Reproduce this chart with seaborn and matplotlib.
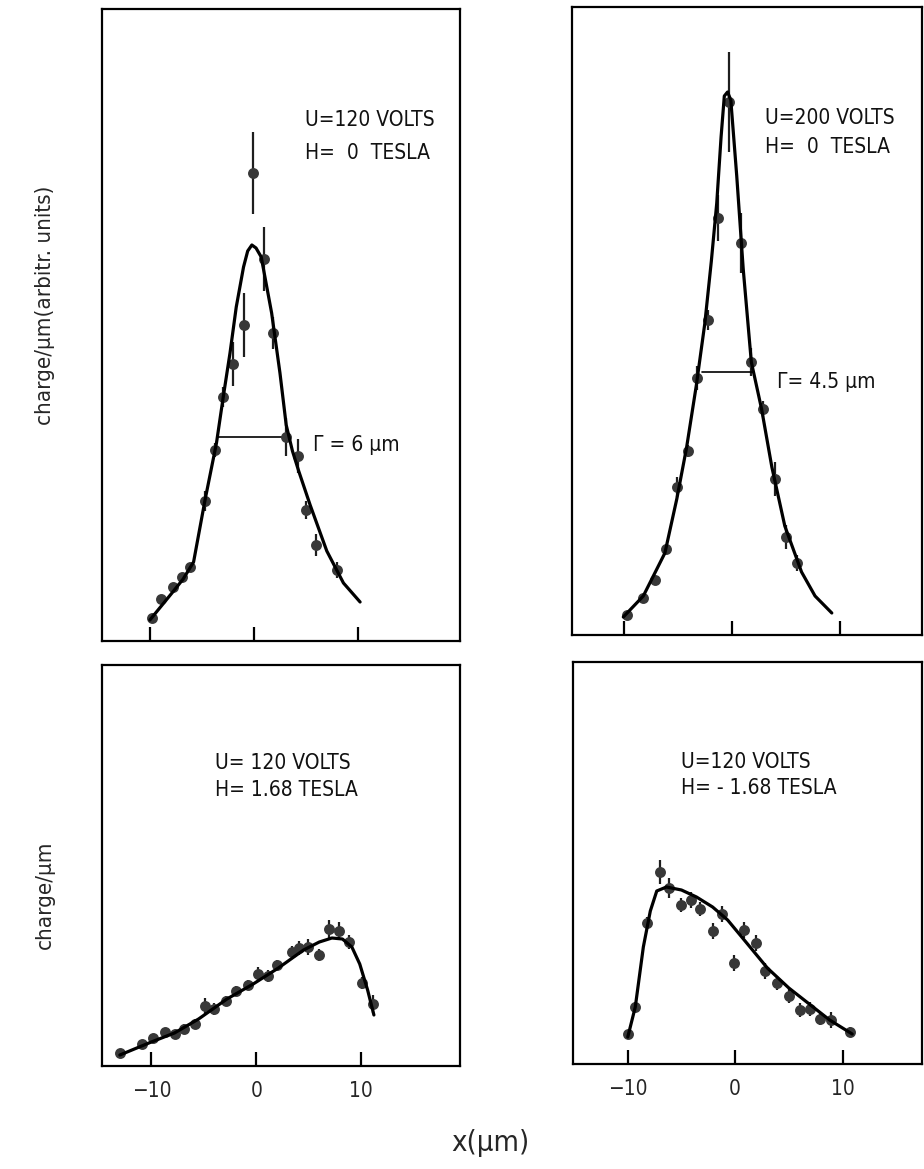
import matplotlib.pyplot as plt
import numpy as np
import pandas as pd
import seaborn as sns

W, H = 924, 1169

# panel 1: U=120 V, H=0 T  (charge per um, arbitrary units)
p1_x = [-9.8, -8.9, -7.8, -6.9, -6.1, -4.7, -3.7, -3.0, -2.0, -0.95, -0.1, 0.96, 1.86, 3.05, 4.2, 5.0, 6.0, 7.95]
p1_y = [2.3, 4.2, 5.4, 6.4, 7.4, 14.0, 19.1, 24.4, 27.7, 31.6, 46.8, 38.2, 30.8, 20.4, 18.5, 13.1, 9.6, 7.1]
p1_err = [0.3, 0.3, 0.3, 0.3, 0.3, 1.0, 0.7, 1.0, 2.2, 3.2, 4.1, 3.2, 1.6, 1.9, 1.7, 0.9, 1.1, 0.8]
p1_fit_x = [-10.0, -8.9, -7.8, -6.8, -5.8, -4.7, -3.6, -2.95, -2.3, -1.7, -1.0, -0.6, -0.2, 0.2, 0.7, 1.7, 2.5, 3.1, 3.7, 4.3, 5.4, 7.0, 8.6, 10.2]
p1_fit_y = [2.1, 3.5, 4.9, 6.2, 7.9, 14.1, 19.8, 24.4, 28.8, 33.4, 37.4, 39.0, 39.6, 39.3, 38.4, 32.8, 26.8, 21.6, 19.0, 17.0, 13.6, 9.0, 5.8, 3.9]

# panel 2: U=200 V, H=0 T
p2_x = [-9.75, -8.2, -7.1, -6.1, -5.1, -4.1, -3.2, -2.25, -1.3, -0.3, 0.83, 1.8, 2.9, 4.0, 5.0, 6.0]
p2_y = [2.0, 3.7, 5.5, 8.6, 14.8, 18.4, 25.7, 31.5, 41.7, 53.3, 39.2, 27.3, 22.6, 15.6, 9.8, 7.2]
p2_err = [0.3, 0.4, 0.4, 0.5, 1.0, 0.6, 1.2, 1.0, 2.3, 5.0, 3.0, 1.4, 0.8, 1.7, 1.2, 0.8]
p2_fit_x = [-10.05, -8.2, -6.2, -5.1, -4.2, -3.3, -2.5, -1.9, -1.4, -1.0, -0.7, -0.4, -0.1, 0.45, 1.05, 1.8, 2.75, 3.7, 4.9, 6.45, 7.7, 9.25]
p2_fit_y = [1.8, 3.9, 8.2, 13.6, 18.7, 24.9, 31.2, 37.4, 43.2, 49.8, 53.9, 54.3, 53.5, 45.9, 36.6, 27.3, 22.6, 16.8, 10.9, 6.3, 3.9, 2.2]

# panel 3: U=120 V, H=1.68 T
p3_x = [-13.0, -10.9, -9.8, -8.7, -7.7, -6.9, -5.8, -4.85, -4.0, -2.9, -1.9, -0.8, 0.15, 1.1, 2.0, 3.4, 4.1, 4.9, 6.0, 6.9, 7.9, 8.8, 10.1, 11.1]
p3_y = [1.3, 2.2, 2.8, 3.4, 3.2, 3.7, 4.2, 6.0, 5.7, 6.5, 7.5, 8.1, 9.2, 9.0, 10.1, 11.4, 11.8, 11.9, 11.1, 13.7, 13.5, 12.4, 8.3, 6.2]
p3_err = [0.3, 0.4, 0.4, 0.4, 0.4, 0.5, 0.5, 0.8, 0.6, 0.5, 0.5, 0.5, 0.7, 0.6, 0.5, 0.6, 0.7, 0.8, 0.6, 0.9, 0.9, 0.7, 0.6, 0.9]
p3_fit_x = [-13.0, -10.0, -7.8, -5.5, -2.8, -0.3, 2.1, 4.5, 6.0, 7.2, 8.2, 9.1, 9.85, 10.6, 11.2]
p3_fit_y = [1.1, 2.4, 3.3, 4.7, 6.7, 8.2, 9.8, 11.6, 12.4, 12.8, 12.7, 11.9, 10.2, 7.6, 5.1]

# panel 4: U=120 V, H=-1.68 T
p4_x = [-9.98, -9.3, -8.2, -7.0, -6.2, -5.0, -4.1, -3.3, -2.1, -1.2, -0.15, 0.8, 1.9, 2.75, 3.9, 5.0, 6.0, 7.0, 7.9, 8.9, 10.7]
p4_y = [3.0, 5.7, 14.1, 19.2, 17.6, 15.9, 16.4, 15.5, 13.3, 15.0, 10.1, 13.4, 12.1, 9.3, 8.1, 6.8, 5.4, 5.5, 4.5, 4.4, 3.2]
p4_err = [0.4, 0.5, 0.6, 1.2, 1.0, 0.7, 0.8, 0.7, 0.8, 0.8, 0.8, 0.8, 0.8, 0.8, 0.7, 0.7, 0.7, 0.7, 0.6, 0.8, 0.5]
p4_fit_x = [-10.0, -9.3, -8.55, -7.9, -7.3, -6.4, -5.0, -3.6, -2.1, -0.7, 1.0, 3.0, 5.0, 6.9, 8.8, 10.9]
p4_fit_y = [2.7, 5.7, 11.7, 15.3, 17.3, 17.7, 17.4, 16.7, 15.7, 14.4, 12.2, 9.6, 7.6, 6.0, 4.4, 3.0]

labels = [
    ("U=120 VOLTS", "H=  0  TESLA"),
    ("U=200 VOLTS", "H=  0  TESLA"),
    ("U= 120 VOLTS", "H= 1.68 TESLA"),
    ("U=120 VOLTS", "H= - 1.68 TESLA"),
]

sns.set_theme(style="white")
plt.rcParams["font.family"] = ["DejaVu Sans"]
plt.rcParams["font.stretch"] = "condensed"

fig = plt.figure(figsize=(W / 100, H / 100), dpi=100)


def box(l, t, r, b):
    return [l / W, 1 - b / H, (r - l) / W, (b - t) / H]


panels = [
    (box(102, 9, 460, 641), (-14.6, 19.8), 63.2, p1_x, p1_y, p1_err, p1_fit_x, p1_fit_y, False),
    (box(572, 7, 922, 635), (-14.8, 17.6), 62.8, p2_x, p2_y, p2_err, p2_fit_x, p2_fit_y, False),
    (box(102, 665, 460, 1066), (-14.7, 19.4), 40.1, p3_x, p3_y, p3_err, p3_fit_x, p3_fit_y, True),
    (box(573, 662, 922, 1064), (-15.1, 17.4), 40.2, p4_x, p4_y, p4_err, p4_fit_x, p4_fit_y, True),
]

axes = []
for pos, xlim, ytop, x, y, err, fx, fy, show_lab in panels:
    ax = fig.add_axes(pos)
    ax.errorbar(x, y, yerr=err, fmt="none", ecolor="#1e1e1e", elinewidth=1.6, capsize=0, zorder=2)
    sns.scatterplot(x=x, y=y, ax=ax, color="#383838", s=62, linewidth=0, zorder=3, legend=False)
    sns.lineplot(x=fx, y=fy, ax=ax, color="black", lw=2.3, sort=False, estimator=None, zorder=4)
    ax.set_xlim(*xlim)
    ax.set_ylim(0, ytop)
    ax.set_xticks([-10, 0, 10])
    ax.set_xticklabels(["\u221210", "0", "10"])
    ax.set_yticks([])
    ax.tick_params(axis="x", direction="in", length=10, width=1.6, color="black",
                   labelsize=15, pad=11, labelbottom=show_lab, bottom=True)
    for s in ax.spines.values():
        s.set_linewidth(1.6)
        s.set_color("black")
    ax.set_xlabel("")
    ax.set_ylabel("")
    axes.append(ax)

txt = dict(fontsize=15, color="#111111", va="center", ha="left")
axes[0].text(4.9, 52.1, labels[0][0], **txt)
axes[0].text(4.9, 48.8, labels[0][1], **txt)
axes[1].text(3.05, 51.7, labels[1][0], **txt)
axes[1].text(3.05, 48.8, labels[1][1], **txt)
axes[2].text(-3.9, 30.3, labels[2][0], **txt)
axes[2].text(-3.9, 27.6, labels[2][1], **txt)
axes[3].text(-5.05, 30.2, labels[3][0], **txt)
axes[3].text(-5.05, 27.6, labels[3][1], **txt)

# FWHM markers
axes[0].plot([-3.5, 3.1], [20.4, 20.4], color="black", lw=1.2)
axes[0].text(5.7, 19.6, "\u0393 = 6 \u03bcm", **txt)
axes[1].plot([-2.8, 2.0], [26.3, 26.3], color="black", lw=1.2)
axes[1].text(4.15, 25.3, "\u0393= 4.5 \u03bcm", **txt)

fig.text(45 / W, 1 - 305 / H, "charge/\u03bcm(arbitr. units)", rotation=90,
         ha="center", va="center", fontsize=16)
fig.text(45 / W, 1 - 895 / H, "charge/\u03bcm", rotation=90,
         ha="center", va="center", fontsize=16)
fig.text(490 / W, 1 - 1143 / H, "x(\u03bcm)", ha="center", va="center", fontsize=21)

fig.savefig("out.png", dpi=100, facecolor="white")
